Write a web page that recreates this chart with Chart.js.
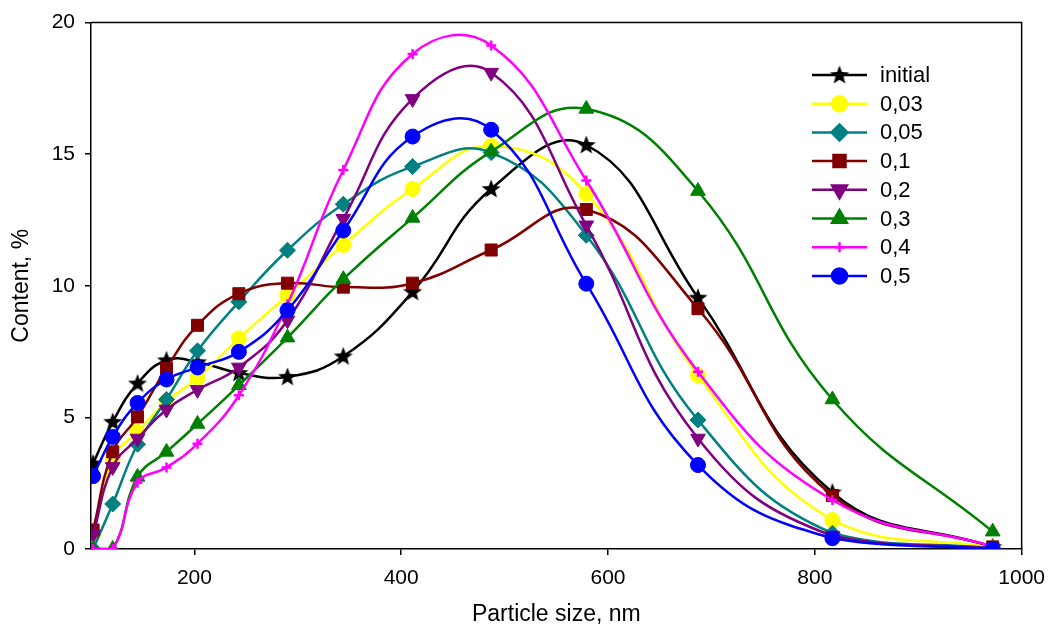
<!DOCTYPE html>
<html>
<head>
<meta charset="utf-8">
<script src="https://cdn.jsdelivr.net/npm/chart.js@4.4.1/dist/chart.umd.min.js"></script>
<style>
  html, body { margin: 0; padding: 0; background: #fff; }
  #wrap { width: 1050px; height: 632px; }
</style>
</head>
<body>
<div id="wrap"><canvas id="chart" width="1050" height="632"></canvas></div>
<script>
// particle size bins, nm
const sizes = [102, 121, 145, 173, 203, 243, 290, 344, 411, 487, 579, 687, 817, 972];

const seriesNames = ['initial', '0,03', '0,05', '0,1', '0,2', '0,3', '0,4', '0,5'];

// content, %
const initial = [3.25, 4.83, 6.29, 7.17, 7.1, 6.69, 6.54, 7.32, 9.77, 13.68, 15.35, 9.55, 2.15, 0.08];
const c003 = [0.55, 3.45, 4.45, 5.6, 6.49, 8.0, 9.64, 11.55, 13.68, 15.31, 13.5, 6.6, 1.1, 0.05];
const c005 = [0, 1.71, 3.98, 5.68, 7.53, 9.39, 11.35, 13.1, 14.53, 15.06, 11.92, 4.9, 0.6, 0.03];
const c01 = [0.72, 3.69, 5.02, 6.86, 8.5, 9.7, 10.1, 9.95, 10.1, 11.36, 12.9, 9.13, 2.03, 0.08];
const c02 = [0.55, 3.12, 4.2, 5.3, 6.05, 6.9, 8.69, 12.55, 17.1, 18.1, 12.3, 4.2, 0.5, 0.03];
const c03 = [0, 0, 2.74, 3.69, 4.75, 6.22, 8.03, 10.25, 12.58, 15.1, 16.72, 13.6, 5.68, 0.66];
const c04 = [0, 0, 2.52, 3.1, 4.0, 5.84, 9.3, 14.4, 18.81, 19.13, 14.0, 6.73, 1.86, 0.1];
const c05 = [2.77, 4.26, 5.55, 6.44, 6.9, 7.49, 9.07, 12.1, 15.67, 15.93, 10.08, 3.19, 0.41, 0];

const xTicks = [200, 400, 600, 800, 1000];
const yTicks = [0, 5, 10, 15, 20];

document.addEventListener('DOMContentLoaded', () => {
    const FONT = "'Liberation Sans', Arial, sans-serif";

    // filled five point star, Chart.js only has an asterisk
    const makeStar = (color) => {
        const c = document.createElement('canvas');
        c.width = 22;
        c.height = 22;
        const g = c.getContext('2d');
        g.fillStyle = color;
        g.beginPath();
        for (let i = 0; i < 10; i++) {
            const r = i % 2 === 0 ? 10 : 4.2;
            const a = -Math.PI / 2 + i * Math.PI / 5;
            g.lineTo(11 + r * Math.cos(a), 11.5 + r * Math.sin(a));
        }
        g.closePath();
        g.fill();
        return c;
    };

    const styles = [
        { data: initial, color: '#000000', point: makeStar('#000000'), radius: 9, rot: 0 },
        { data: c003, color: '#ffff00', point: 'circle', radius: 7.5, rot: 0 },
        { data: c005, color: '#008080', point: 'rectRot', radius: 8, rot: 0 },
        { data: c01, color: '#800000', point: 'rect', radius: 8.5, rot: 0 },
        { data: c02, color: '#800080', point: 'triangle', radius: 8.5, rot: 180 },
        { data: c03, color: '#008000', point: 'triangle', radius: 8.5, rot: 0 },
        { data: c04, color: '#ff00ff', point: 'cross', radius: 5, rot: 0 },
        { data: c05, color: '#0000ff', point: 'circle', radius: 7.5, rot: 0 }
    ];

    const datasets = styles.map((s, i) => ({
        label: seriesNames[i],
        data: sizes.map((x, j) => ({ x: x, y: s.data[j] })),
        borderColor: s.color,
        backgroundColor: s.color,
        borderWidth: 2.5,
        tension: 0.44,
        pointStyle: s.point,
        pointRadius: s.radius,
        pointRotation: s.rot,
        pointBorderWidth: s.point === 'cross' ? 2.5 : 1,
        pointBackgroundColor: s.color,
        pointBorderColor: s.color,
        order: styles.length - i
    }));

    const framePlugin = {
        id: 'frame',
        afterDatasetsDraw(chart) {
            const { ctx, chartArea: a } = chart;
            ctx.save();
            ctx.strokeStyle = '#000';
            ctx.lineWidth = 1.5;
            ctx.beginPath();
            ctx.moveTo(a.left, a.top);
            ctx.lineTo(a.right, a.top);
            ctx.lineTo(a.right, a.bottom);
            ctx.stroke();
            ctx.restore();
        }
    };

    const legendPlugin = {
        id: 'boxLegend',
        afterDraw(chart) {
            const ctx = chart.ctx;
            const top = 75;
            const step = 28.7;
            ctx.save();
            chart.data.datasets.forEach((ds, i) => {
                const y = top + i * step;
                ctx.strokeStyle = ds.borderColor;
                ctx.fillStyle = ds.borderColor;
                ctx.lineWidth = 2.5;
                ctx.beginPath();
                ctx.moveTo(812, y);
                ctx.lineTo(867, y);
                ctx.stroke();
                Chart.helpers.drawPoint(ctx, {
                    pointStyle: ds.pointStyle,
                    rotation: ds.pointRotation,
                    radius: ds.pointRadius,
                    borderWidth: ds.pointBorderWidth
                }, 839.5, y);
                ctx.fillStyle = '#000';
                ctx.font = '22px ' + FONT;
                ctx.textBaseline = 'middle';
                ctx.textAlign = 'left';
                ctx.fillText(ds.label, 880, y + 1);
            });
            ctx.restore();
        }
    };

    const ctx = document.getElementById('chart').getContext('2d');
    new Chart(ctx, {
        type: 'line',
        data: { datasets: datasets },
        options: {
            responsive: false,
            animation: false,
            devicePixelRatio: 1,
            layout: { padding: { top: 22, right: 28, left: 0, bottom: 0 } },
            plugins: {
                legend: { display: false },
                tooltip: { enabled: false }
            },
            scales: {
                x: {
                    type: 'linear',
                    min: 100,
                    max: 1000,
                    afterBuildTicks: (s) => { s.ticks = xTicks.map(v => ({ value: v })); },
                    afterFit: (s) => { s.height = 83; },
                    grid: { drawOnChartArea: false, color: '#000', tickLength: 6, lineWidth: 1.5 },
                    border: { color: '#000', width: 1.5 },
                    ticks: {
                        color: '#000',
                        font: { family: FONT, size: 21, lineHeight: 1.76 },
                        padding: 5,
                        maxRotation: 0,
                        callback: (v) => String(v)
                    },
                    title: {
                        display: true,
                        text: 'Particle size, nm',
                        color: '#000',
                        font: { family: FONT, size: 23 },
                        padding: { top: 0, bottom: 4 }
                    }
                },
                y: {
                    min: 0,
                    max: 20,
                    afterBuildTicks: (s) => { s.ticks = yTicks.map(v => ({ value: v })); },
                    afterFit: (s) => { s.width = 91; },
                    grid: { drawOnChartArea: false, color: '#000', tickLength: 6, lineWidth: 1.5 },
                    border: { color: '#000', width: 1.5 },
                    ticks: {
                        color: '#000',
                        font: { family: FONT, size: 21 },
                        padding: 10,
                        callback: (v) => String(v)
                    },
                    title: {
                        display: true,
                        text: 'Content, %',
                        color: '#000',
                        font: { family: FONT, size: 23 },
                        padding: { top: 8, bottom: 0 }
                    }
                }
            }
        },
        plugins: [framePlugin, legendPlugin]
    });
});
</script>
</body>
</html>
